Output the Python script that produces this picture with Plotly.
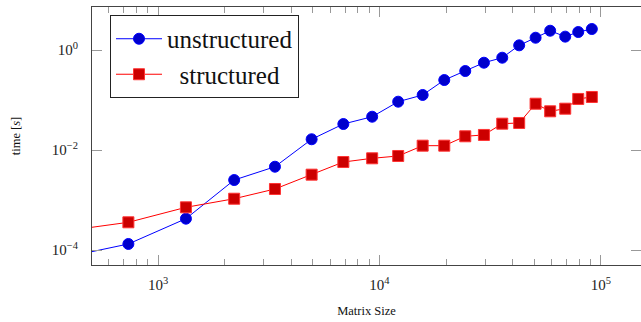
import plotly.graph_objects as go

# Data
matrix_size = [316, 735, 1337, 2208, 3374, 4940, 6870, 9270, 12150, 15670,
               19620, 24400, 29630, 35850, 42750, 50700, 59000, 69000, 79000, 91000]
time_unstructured = [6.0e-5, 1.32e-4, 4.23e-4, 2.51e-3, 4.63e-3, 1.64e-2, 3.31e-2,
                     4.63e-2, 9.25e-2, 0.126, 0.251, 0.380, 0.557, 0.701, 1.24,
                     1.76, 2.43, 1.85, 2.29, 2.63]
time_structured = [2.15e-4, 3.58e-4, 7.14e-4, 1.06e-3, 1.66e-3, 3.21e-3, 5.75e-3,
                   6.82e-3, 7.59e-3, 1.22e-2, 1.22e-2, 1.88e-2, 2.0e-2, 3.36e-2,
                   3.47e-2, 8.43e-2, 5.94e-2, 6.70e-2, 0.105, 0.115]
series_names = ["unstructured", "\u00a0\u00a0structured"]
y_tickvals = [1e-4, 1e-2, 1]
y_ticktext = ["10<sup>\u22124</sup>", "10<sup>\u22122</sup>", "10<sup>0</sup>"]
x_tickvals = [1e3, 1e4, 1e5]
x_ticktext = ["10<sup>3</sup>", "10<sup>4</sup>", "10<sup>5</sup>"]

FONT = "Liberation Serif"

fig = go.Figure()
fig.add_trace(go.Scatter(
    x=matrix_size, y=time_unstructured, name=series_names[0],
    mode="lines+markers",
    line=dict(color="#0000ff", width=1),
    marker=dict(symbol="circle", size=11, color="#0000cc",
                line=dict(color="#0000ff", width=1)),
))
fig.add_trace(go.Scatter(
    x=matrix_size, y=time_structured, name=series_names[1],
    mode="lines+markers",
    line=dict(color="#ff0000", width=1),
    marker=dict(symbol="square", size=11, color="#cc0000",
                line=dict(color="#ff3333", width=1)),
))
# invisible helper trace so the right-hand tick axis is drawn
fig.add_trace(go.Scatter(x=[matrix_size[1]], y=[time_structured[1]], yaxis="y2",
                         mode="markers", marker=dict(opacity=0),
                         showlegend=False, hoverinfo="skip"))

yrange = [-4.3, 0.86]
fig.update_layout(
    width=641, height=322,
    margin=dict(l=92, r=0, t=7, b=57),
    plot_bgcolor="white", paper_bgcolor="white",
    font=dict(family=FONT, color="#222"),
    showlegend=True,
    legend=dict(x=0.0328, y=0.969, xanchor="left", yanchor="top",
                bordercolor="#222", borderwidth=1, bgcolor="white",
                font=dict(family=FONT, size=25, color="#111"),
                itemwidth=46, tracegroupgap=0),
    xaxis=dict(
        type="log", range=[2.702, 5.181],
        tickmode="array", tickvals=x_tickvals, ticktext=x_ticktext,
        ticks="inside", ticklen=10, tickcolor="#999", tickwidth=1,
        showline=True, linecolor="#444", linewidth=1, mirror="ticks",
        showgrid=False, zeroline=False, automargin=False,
        minor=dict(ticks="inside", ticklen=6, tickcolor="#999", dtick="D1", showgrid=False),
        tickfont=dict(family=FONT, size=15, color="#222"),
        ticklabelstandoff=6,
        title=dict(text="Matrix Size", font=dict(family=FONT, size=12.5, color="#111"), standoff=14),
    ),
    yaxis=dict(
        type="log", range=yrange,
        tickmode="array", tickvals=y_tickvals, ticktext=y_ticktext,
        ticks="inside", ticklen=10, tickcolor="#999", tickwidth=1,
        showline=True, linecolor="#444", linewidth=1, mirror=False,
        showgrid=False, zeroline=False, automargin=False,
        tickfont=dict(family=FONT, size=15, color="#222"),
        ticklabelstandoff=10,
        title=dict(text="time [<i>s</i>]", font=dict(family=FONT, size=12.5, color="#111"), standoff=28),
    ),
    yaxis2=dict(
        type="log", range=yrange, overlaying="y", side="right",
        tickmode="array", tickvals=y_tickvals,
        ticks="inside", ticklen=10, tickcolor="#999", tickwidth=1,
        showline=False, showgrid=False, zeroline=False, showticklabels=False,
        automargin=False,
    ),
)

fig.write_html("out.html", config={"displayModeBar": False, "staticPlot": True},
               post_script="document.body.style.margin='0';")
